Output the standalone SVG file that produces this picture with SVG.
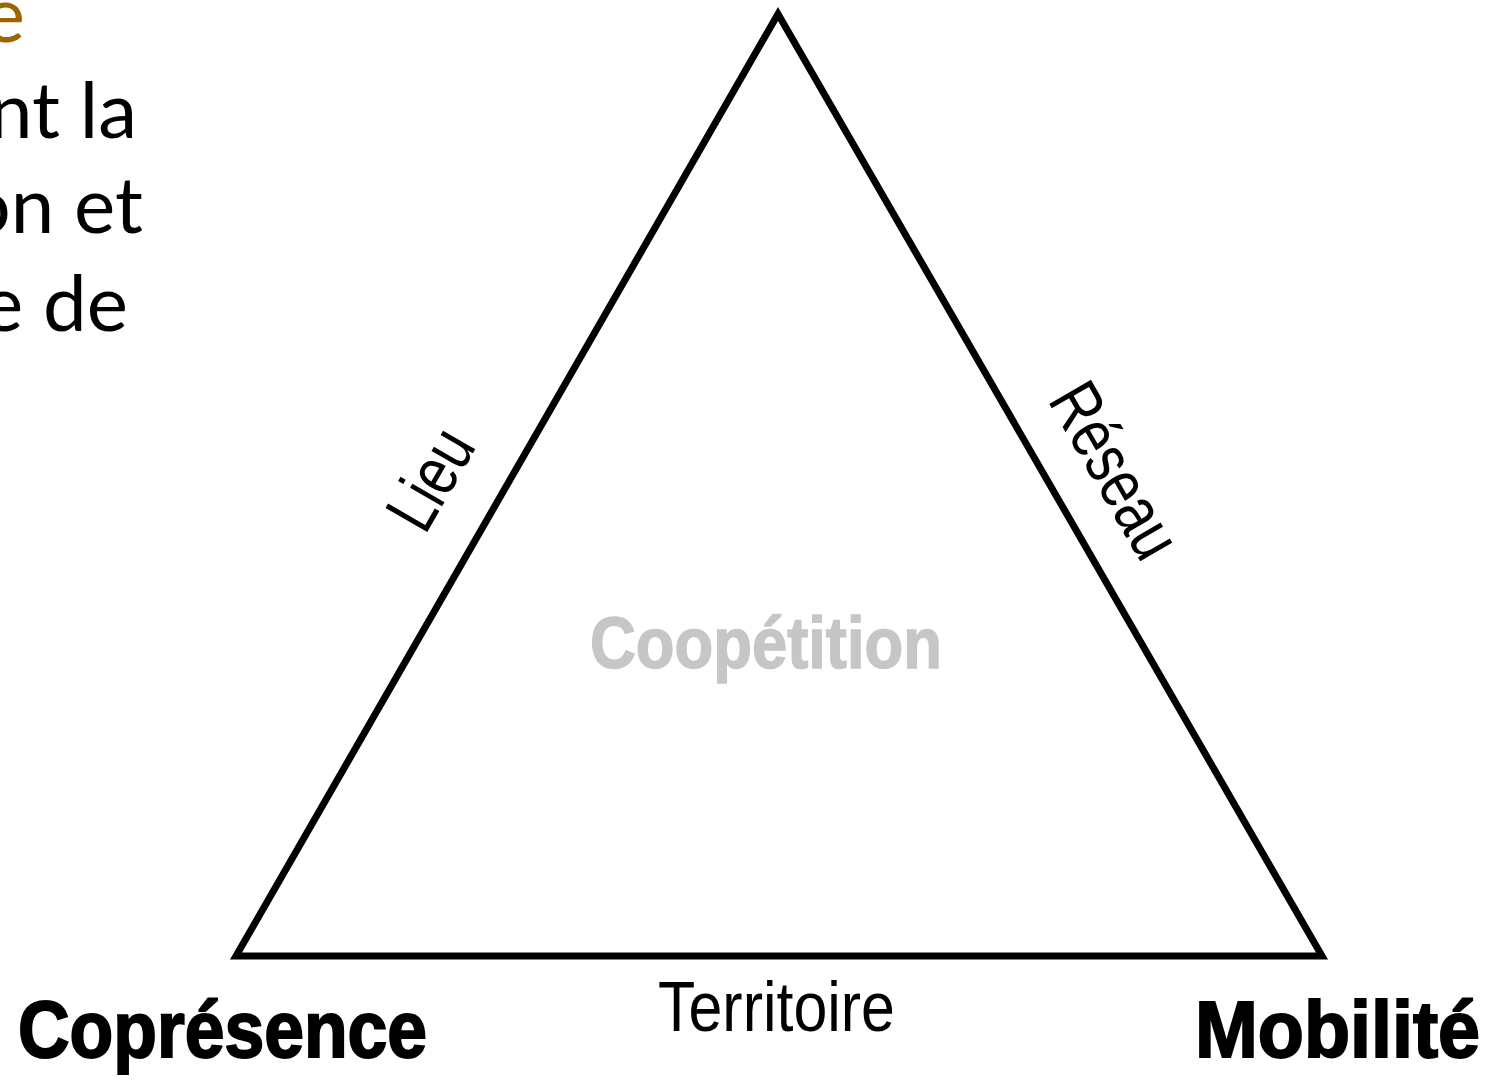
<svg xmlns="http://www.w3.org/2000/svg" width="1497" height="1081" viewBox="0 0 1497 1081">
<style>
.slide{font-family:"Lato","Liberation Sans",sans-serif;font-size:78px;fill:#000;text-anchor:end}
.edge{font-family:"Liberation Sans",sans-serif;font-size:70px;fill:#000}
.corner{font-family:"Liberation Sans",sans-serif;font-weight:bold;font-size:80px;fill:#000;stroke:#000;stroke-width:2}
</style>
<rect width="1497" height="1081" fill="#fff"/>
<g id="slide-text">
<text class="slide" x="25" y="42" style="fill:#9C6500">e</text>
<text class="slide" x="137" y="138">nt la</text>
<text class="slide" x="143" y="233">on et</text>
<text class="slide" x="128" y="331">e de</text>
</g>
<g id="connectors">
<polygon points="778,14 236,956 1322,956" fill="none" stroke="#000" stroke-width="7" stroke-linejoin="miter"/>
</g>
<g id="lieu">
<text class="edge" transform="translate(425,536) rotate(-60)" textLength="104" lengthAdjust="spacingAndGlyphs">Lieu</text>
</g>
<g id="reseau">
<text class="edge" transform="translate(1047,400) rotate(60)" textLength="190" lengthAdjust="spacingAndGlyphs">Réseau</text>
</g>
<g id="territoire">
<text class="edge" x="658" y="1031" font-size="76" textLength="237" lengthAdjust="spacingAndGlyphs">Territoire</text>
</g>
<g id="coopetition">
<text x="590" y="668" font-family="Liberation Sans, sans-serif" font-weight="bold" font-size="72" fill="#c6c6c6" stroke="#c6c6c6" stroke-width="1.5" textLength="352" lengthAdjust="spacingAndGlyphs">Coopétition</text>
</g>
<g id="copresence">
<text class="corner" x="18" y="1057" textLength="409" lengthAdjust="spacingAndGlyphs">Coprésence</text>
</g>
<g id="mobilite">
<text class="corner" x="1195" y="1057" textLength="285" lengthAdjust="spacingAndGlyphs">Mobilité</text>
</g>
</svg>
